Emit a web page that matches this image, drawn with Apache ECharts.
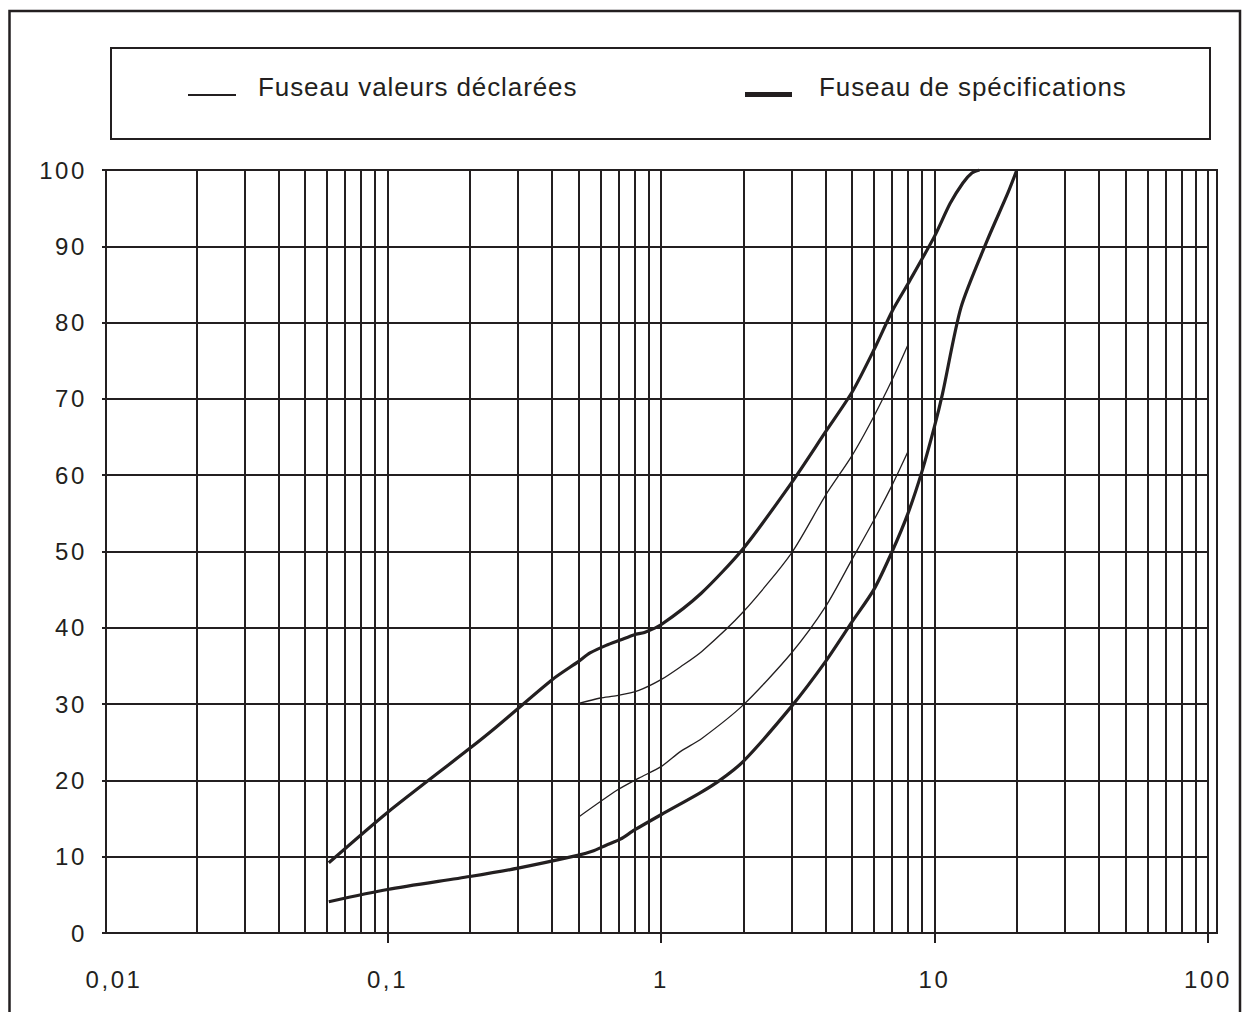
<!DOCTYPE html>
<html><head><meta charset="utf-8">
<script src="https://cdn.jsdelivr.net/npm/echarts@6/dist/echarts.min.js"></script>
<style>
html,body{margin:0;padding:0;background:#fff}
#c{width:1242px;height:1012px}
#c text{letter-spacing:2.6px}
#c text[style*="26px"]{letter-spacing:0.9px}
</style>
</head><body><div id="c"></div>
<script>
// Legend names
const nameDeclared = 'Fuseau valeurs déclarées';
const nameSpec = 'Fuseau de spécifications';

// Axis ticks / labels
const xLabelValues = [0.01, 0.1, 1, 10, 100];
const xLabelTexts = ['0,01', '0,1', '1', '10', '100'];
const xTickValues = [0.1, 1, 10, 100];
const xGridValues = [0.02,0.03,0.04,0.05,0.06,0.07,0.08,0.09,0.1,
                     0.2,0.3,0.4,0.5,0.6,0.7,0.8,0.9,1,
                     2,3,4,5,6,7,8,9,10,
                     20,30,40,50,60,70,80,90,100];
const yTickLabels = ['0','10','20','30','40','50','60','70','80','90','100'];

// Curves [sieve size, % passing]
const specUpper = [[0.061,9.2],[0.1,15.8],[0.2,24.2],[0.25,27.0],[0.4,33.2],[0.5,35.6],[0.55,36.7],
  [0.63,37.7],[0.71,38.4],[0.8,39.1],[0.87,39.4],[1,40.4],[1.4,44.5],[2,50.4],[3,59.0],[4,65.7],
  [5,70.9],[6,76.4],[7,81.5],[8,85.1],[10,91.3],[11.4,95.6],[12.7,98.3],[13.7,99.6],[14.6,100]];
const specLower = [[0.061,4.1],[0.1,5.7],[0.2,7.4],[0.3,8.5],[0.5,10.2],[0.56,10.7],[0.63,11.5],
  [0.71,12.3],[0.8,13.5],[1,15.5],[1.38,18.3],[1.64,20.0],[2,22.5],[3,29.7],[4,35.6],[5,40.8],
  [6,45.0],[7,50.0],[8,55.0],[9,60.5],[10,66.4],[10.7,70.7],[12.5,82.0],[15.6,90.8],[18.5,96.9],[20,100]];
const declUpper = [[0.5,30.1],[0.6,30.8],[0.69,31.1],[0.83,31.8],[1,33.2],[1.18,34.9],[1.41,36.9],
  [2,42.1],[3,49.8],[4,57.4],[5,62.6],[6,67.7],[7,72.5],[8,77.1]];
const declLower = [[0.5,15.2],[0.69,18.7],[0.83,20.3],[1,21.8],[1.18,23.8],[1.41,25.5],[2,29.9],
  [3,36.7],[4,42.8],[5,49.0],[6,54.1],[7,58.7],[8,63.1]];

const ink = '#231f20';
const chart = echarts.init(document.getElementById('c'), null, {renderer: 'svg'});

function curve(name, data, width) {
  return {
    name, type: 'line', data, showSymbol: false, symbol: 'none', smooth: 0.25, z: 5,
    lineStyle: {color: ink, width}, itemStyle: {color: ink}, silent: true
  };
}

chart.setOption({
  animation: false,
  backgroundColor: '#fff',
  textStyle: {fontFamily: 'Liberation Sans, Arial, sans-serif', color: ink},
  grid: {left: 106, right: 34, top: 170, bottom: 79, containLabel: false},
  legend: [
    {data: [nameDeclared], left: 188, top: 74, padding: 0, itemWidth: 48, itemHeight: 18,
     icon: 'path://M0,0 L0.01,0 L0.01,0.01 L0,0.01 Z M0,16 L48,16 L48,18 L0,18 Z',
     selectedMode: false,
     textStyle: {fontSize: 26, color: ink, padding: [0, 0, 0, 17]}},
    {data: [nameSpec], left: 745, top: 74, padding: 0, itemWidth: 47, itemHeight: 20,
     icon: 'path://M0,0 L0.01,0 L0.01,0.01 L0,0.01 Z M0,15 L47,15 L47,20 L0,20 Z',
     selectedMode: false,
     textStyle: {fontSize: 26, color: ink, padding: [0, 0, 0, 22]}}
  ],
  xAxis: {
    type: 'log', logBase: 10, min: 0.009349, max: 100,
    axisLine: {show: true, lineStyle: {color: ink, width: 2}},
    axisTick: {show: true, length: 10, customValues: xTickValues, lineStyle: {color: ink, width: 2}},
    axisLabel: {
      customValues: xLabelValues, showMinLabel: true, margin: 34, fontSize: 24, color: ink,
      formatter: v => {
        const i = xLabelValues.findIndex(t => Math.abs(Math.log10(t) - Math.log10(v)) < 1e-6);
        return i >= 0 ? xLabelTexts[i] : '';
      }
    },
    splitLine: {show: false}
  },
  yAxis: {
    type: 'value', min: 0, max: 100, interval: 10,
    axisLine: {show: true, lineStyle: {color: ink, width: 2}},
    axisTick: {show: true, length: 4, lineStyle: {color: ink, width: 2}},
    axisLabel: {margin: 19, fontSize: 24, color: ink, formatter: v => yTickLabels[Math.round(v / 10)]},
    splitLine: {show: true, lineStyle: {color: ink, width: 2}}
  },
  series: [
    {
      type: 'line', data: [], z: 1, silent: true,
      markLine: {
        silent: true, symbol: ['none', 'none'], animation: false,
        label: {show: false}, emphasis: {disabled: true},
        lineStyle: {type: 'solid', color: ink, width: 2},
        data: xGridValues.map(v => ({xAxis: v}))
      }
    },
    curve(nameDeclared, declUpper, 1.3),
    curve(nameDeclared, declLower, 1.3),
    curve(nameSpec, specUpper, 3.2),
    curve(nameSpec, specLower, 3.2)
  ],
  graphic: [
    {type: 'rect', silent: true, z: 100, shape: {x: 9.5, y: 11, width: 1230.5, height: 1100},
     style: {fill: null, stroke: ink, lineWidth: 2.5}},
    {type: 'rect', silent: true, z: 100, shape: {x: 111, y: 48, width: 1099, height: 91},
     style: {fill: null, stroke: ink, lineWidth: 2}},
    {type: 'rect', silent: true, z: 100, shape: {x: 106, y: 170, width: 1111, height: 763},
     style: {fill: null, stroke: ink, lineWidth: 2}}
  ]
});
</script></body></html>
